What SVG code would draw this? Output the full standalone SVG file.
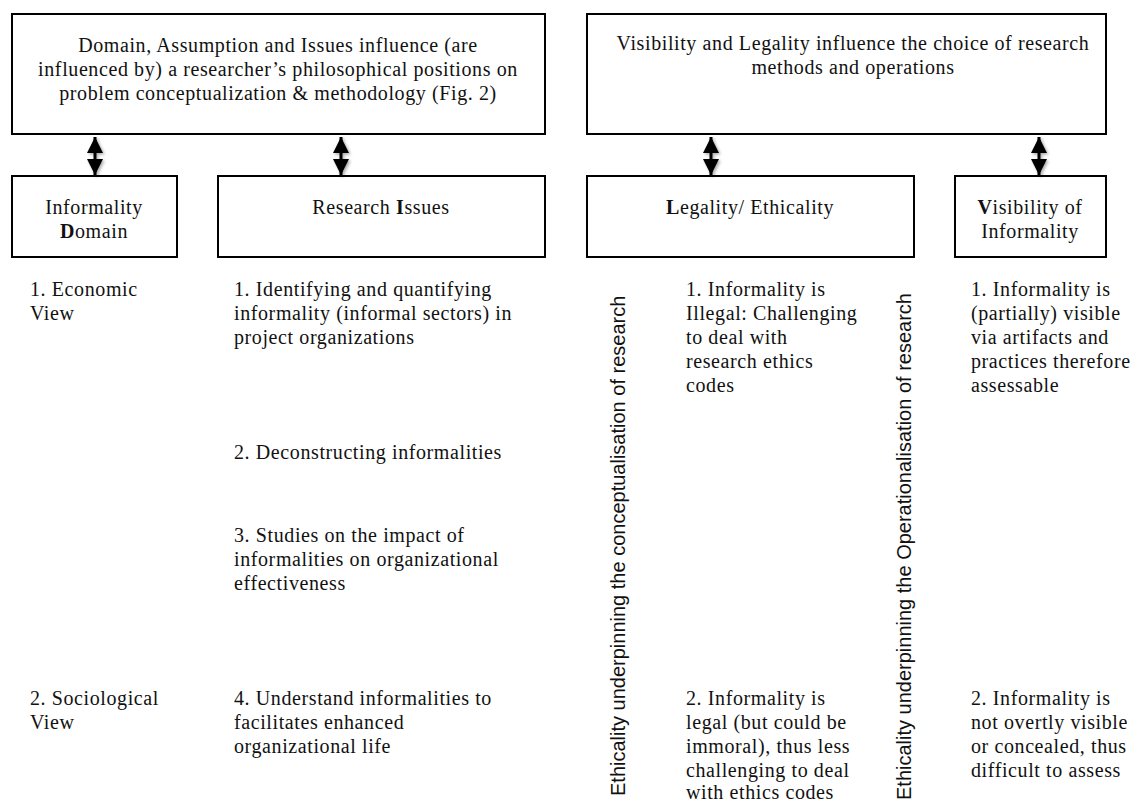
<svg xmlns="http://www.w3.org/2000/svg" width="1142" height="801" viewBox="0 0 1142 801">
<style>
.box{fill:#fff;stroke:#000;stroke-width:2}
.t{font-family:"Liberation Serif","Times New Roman",serif;font-size:20px;letter-spacing:0.6px;fill:#111}
.c{text-anchor:middle}
.v{font-family:"Liberation Sans",Arial,sans-serif;font-size:20px;fill:#111}
.arr{stroke:#000;stroke-width:3;marker-start:url(#ah);marker-end:url(#ah)}
</style>
<defs>
<marker id="ah" markerUnits="userSpaceOnUse" markerWidth="16" markerHeight="16" refX="16" refY="8" orient="auto-start-reverse" viewBox="0 0 16 16">
<path d="M0,0 L16,8 L0,16 z" fill="#000"/>
</marker>
<filter id="sh" x="-100%" y="-20%" width="300%" height="150%">
<feDropShadow dx="1.5" dy="1.5" stdDeviation="1.5" flood-color="#000" flood-opacity="0.35"/>
</filter>
</defs>
<rect width="1142" height="801" fill="#fff"/>

<g id="top-left">
<rect class="box" x="12" y="14" width="533" height="120"/>
<text class="t c" x="278" y="52">Domain, Assumption and Issues influence (are</text>
<text class="t c" x="278" y="76">influenced by) a researcher’s philosophical positions on</text>
<text class="t c" x="278" y="100">problem conceptualization &amp; methodology (Fig. 2)</text>
</g>

<g id="top-right">
<rect class="box" x="587" y="14" width="519" height="120"/>
<text class="t c" x="853" y="50">Visibility and Legality influence the choice of research</text>
<text class="t c" x="853" y="74">methods and operations</text>
</g>

<g id="informality-domain">
<rect class="box" x="12" y="176" width="165" height="81"/>
<text class="t c" x="94" y="214">Informality</text>
<text class="t c" x="94" y="238"><tspan font-weight="bold">D</tspan>omain</text>
</g>

<g id="research-issues">
<rect class="box" x="218" y="176" width="327" height="81"/>
<text class="t c" x="381" y="214">Research <tspan font-weight="bold">I</tspan>ssues</text>
</g>

<g id="legality">
<rect class="box" x="587" y="176" width="327" height="81"/>
<text class="t c" x="750" y="214"><tspan font-weight="bold">L</tspan>egality/ Ethicality</text>
</g>

<g id="visibility">
<rect class="box" x="955" y="176" width="151" height="81"/>
<text class="t c" x="1030" y="214"><tspan font-weight="bold">V</tspan>isibility of</text>
<text class="t c" x="1030" y="238">Informality</text>
</g>

<g id="connectors" filter="url(#sh)">
<line class="arr" x1="95" y1="137" x2="95" y2="175"/>
<line class="arr" x1="341" y1="137" x2="341" y2="175"/>
<line class="arr" x1="711" y1="137" x2="711" y2="175"/>
<line class="arr" x1="1039" y1="137" x2="1039" y2="175"/>
</g>

<g id="domain-items">
<text class="t" x="30" y="296">1. Economic</text>
<text class="t" x="30" y="320">View</text>
<text class="t" x="30" y="705">2. Sociological</text>
<text class="t" x="30" y="729">View</text>
</g>

<g id="issue-items">
<text class="t" x="234" y="296">1. Identifying and quantifying</text>
<text class="t" x="234" y="320">informality (informal sectors) in</text>
<text class="t" x="234" y="344">project organizations</text>
<text class="t" x="234" y="459">2. Deconstructing informalities</text>
<text class="t" x="234" y="542">3. Studies on the impact of</text>
<text class="t" x="234" y="566">informalities on organizational</text>
<text class="t" x="234" y="590">effectiveness</text>
<text class="t" x="234" y="705">4. Understand informalities to</text>
<text class="t" x="234" y="729">facilitates enhanced</text>
<text class="t" x="234" y="753">organizational life</text>
</g>

<g id="legality-items">
<text class="t" x="686" y="296">1. Informality is</text>
<text class="t" x="686" y="320">Illegal: Challenging</text>
<text class="t" x="686" y="344">to deal with</text>
<text class="t" x="686" y="368">research ethics</text>
<text class="t" x="686" y="392">codes</text>
<text class="t" x="686" y="705">2. Informality is</text>
<text class="t" x="686" y="729">legal (but could be</text>
<text class="t" x="686" y="753">immoral), thus less</text>
<text class="t" x="686" y="777">challenging to deal</text>
<text class="t" x="686" y="799">with ethics codes</text>
</g>

<g id="visibility-items">
<text class="t" x="971" y="296">1. Informality is</text>
<text class="t" x="971" y="320">(partially) visible</text>
<text class="t" x="971" y="344">via artifacts and</text>
<text class="t" x="971" y="368">practices therefore</text>
<text class="t" x="971" y="392">assessable</text>
<text class="t" x="971" y="705">2. Informality is</text>
<text class="t" x="971" y="729">not overtly visible</text>
<text class="t" x="971" y="753">or concealed, thus</text>
<text class="t" x="971" y="777">difficult to assess</text>
</g>

<g id="vertical-labels">
<text class="v" transform="translate(625,796) rotate(-90)">Ethicality underpinning the conceptualisation of research</text>
<text class="v" transform="translate(911,800) rotate(-90)">Ethicality underpinning the Operationalisation of research</text>
</g>
</svg>
